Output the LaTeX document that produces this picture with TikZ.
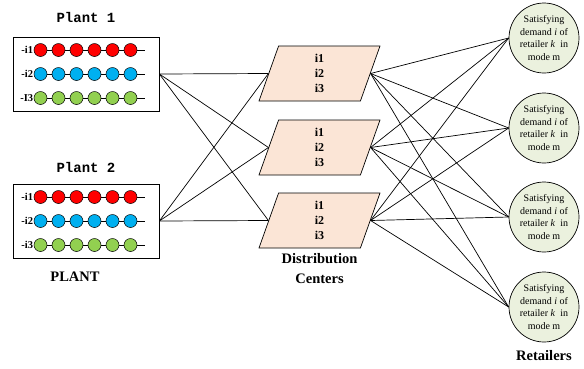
\documentclass[tikz,border=0pt]{standalone}
\usepackage{fontspec}
\setmainfont{Liberation Serif}
\setmonofont{Liberation Mono}
\usetikzlibrary{positioning,shapes.geometric}

\definecolor{dcfill}{RGB}{251,229,214}
\definecolor{retfill}{RGB}{235,241,222}
\definecolor{beadred}{RGB}{255,0,0}
\definecolor{beadblue}{RGB}{0,176,240}
\definecolor{beadgreen}{RGB}{146,208,80}

\begin{document}
\begin{tikzpicture}[x=1pt,y=-1pt,line width=0.7pt,
  plantbox/.style={draw,minimum width=146pt,minimum height=74pt,inner sep=0pt},
  planttitle/.style={font=\ttfamily\bfseries\fontsize{14}{14}\selectfont},
  rowlabel/.style={anchor=east,inner sep=0.5pt,font=\bfseries\fontsize{10.5}{10.5}\selectfont},
  bead/.style={draw,circle,minimum size=13pt,inner sep=0pt,line width=0.5pt,fill=#1},
  dcbox/.style={draw,fill=dcfill,trapezium,trapezium left angle=63,trapezium right angle=117,
    trapezium stretches body,minimum width=121pt,minimum height=55pt,inner sep=0pt,
    align=center,font=\bfseries\fontsize{12}{15}\selectfont},
  retailer/.style={draw,circle,fill=retfill,minimum size=70pt,inner sep=0pt,
    align=center,font=\fontsize{10}{12.6}\selectfont},
  caption/.style={align=center,font=\bfseries\fontsize{14.5}{20}\selectfont}]
\useasboundingbox (0,0) rectangle (584,368);

% plants
\node[plantbox] (plant1) at (86,74) {};
\node[plantbox] (plant2) at (86,221) {};
\node[planttitle,above=10pt of plant1] (title1) {Plant 1};
\node[planttitle,above=7pt of plant2] (title2) {Plant 2};
\node[caption] (plantcap) at (75,277) {PLANT};

\foreach \p/\y/\lab in {1/50/I, 2/197/i} {
  \foreach \r/\col/\txt in {0/beadred/i1, 1/beadblue/i2, 2/beadgreen/\lab3} {
    \node[rowlabel] (lab\p\r) at (34,\y+24*\r) {-\txt};
    \coordinate (end\p\r) at (145,\y+24*\r);
    \draw (lab\p\r) -- (end\p\r);
    \foreach \k in {0,...,5}
      \node[bead=\col] (b\p\r\k) at (40.5+18*\k,\y+24*\r) {};
  }
}

% distribution centers
\node[dcbox] (dc1) at (319.5,73.5) {i1\\i2\\i3};
\node[dcbox] (dc2) at (319.5,147.5) {i1\\i2\\i3};
\node[dcbox] (dc3) at (319.5,220.5) {i1\\i2\\i3};
\node[caption,below=1pt of dc3] (dccap) {Distribution\\Centers};

% retailers
\foreach \n/\y in {1/38,2/128,3/217,4/307}
  \node[retailer] (r\n) at (544,\y) {Satisfying\\demand \textit{i} of\\retailer \textit{k}\ \ in\\mode m};
\node[caption,below=4pt of r4] (retcap) {Retailers};

% links
\foreach \p in {plant1,plant2}
  \foreach \d in {dc1,dc2,dc3}
    \draw (\p.east) -- (\d.left side);
\foreach \d in {dc1,dc2,dc3}
  \foreach \n in {1,...,4}
    \draw (\d.right side) -- (r\n.west);
\end{tikzpicture}
\end{document}
